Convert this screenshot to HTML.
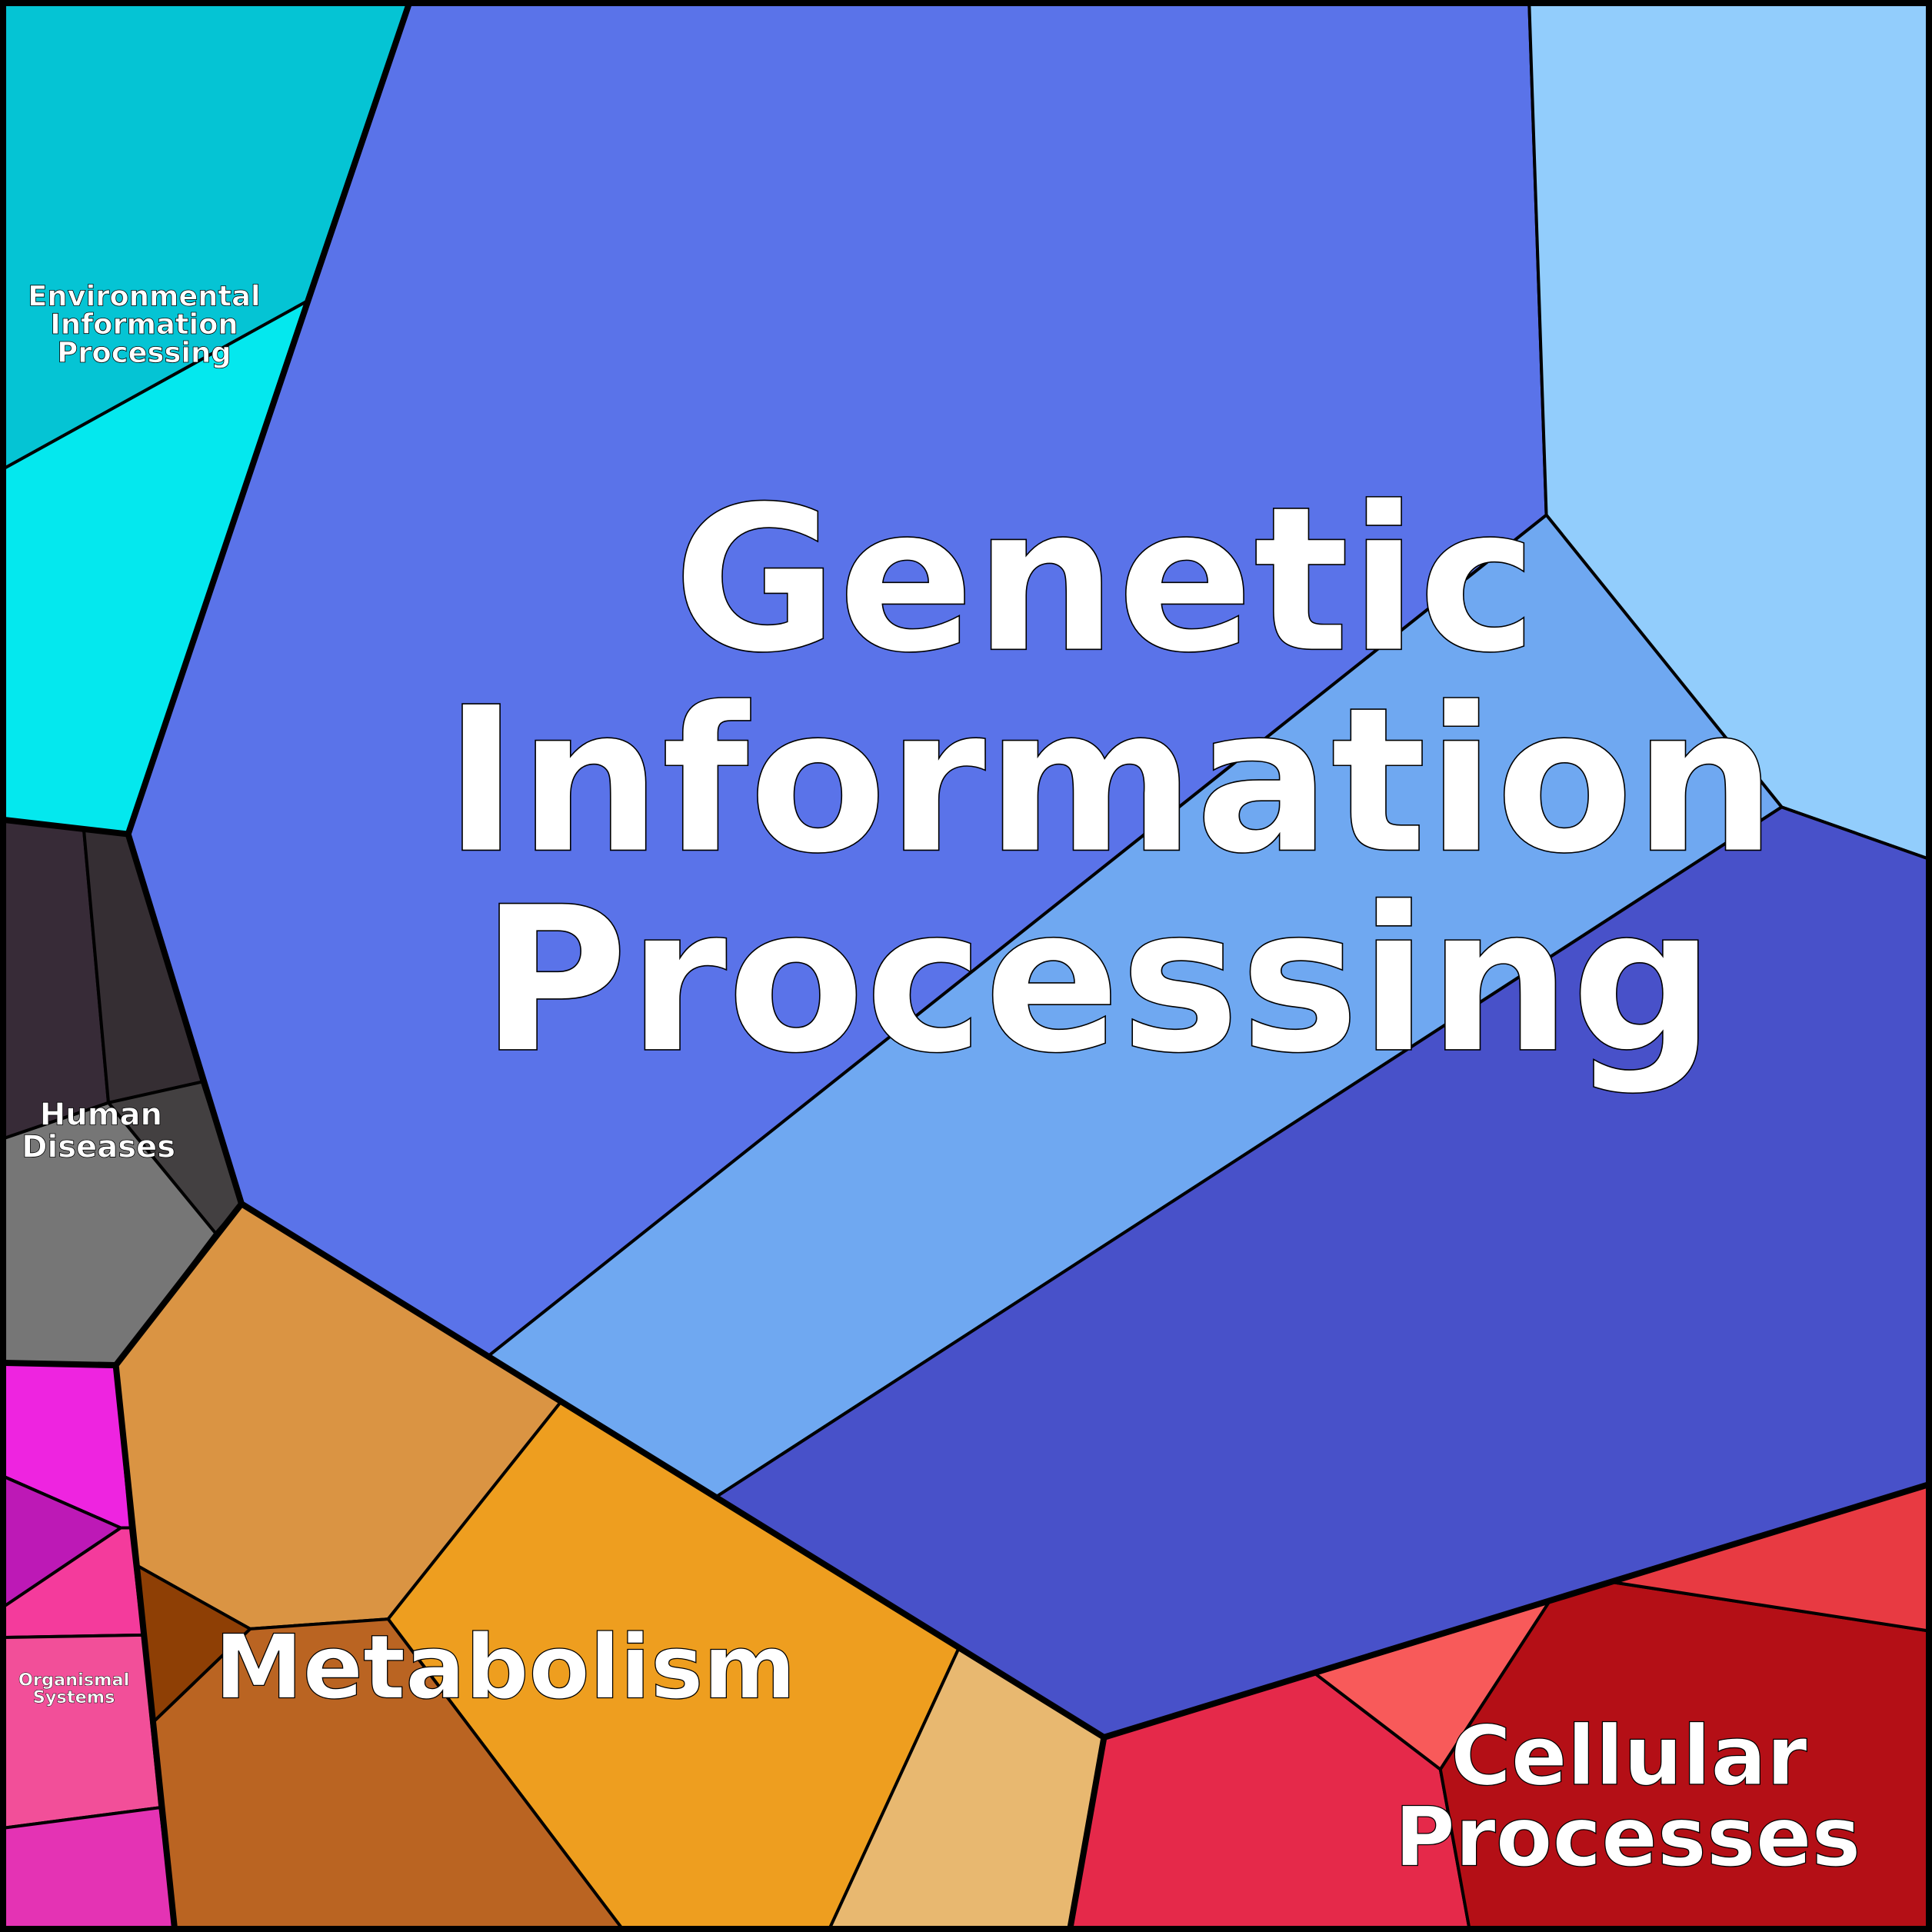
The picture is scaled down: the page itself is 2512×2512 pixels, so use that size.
<!DOCTYPE html>
<html><head><meta charset="utf-8"><style>html,body{margin:0;padding:0;background:#fff}svg{display:block}</style></head>
<body>
<svg width="2512" height="2512" viewBox="0 0 1568 1568" xmlns="http://www.w3.org/2000/svg">
<g stroke="#000" stroke-width="2.5" stroke-linejoin="round">
<polygon fill="#05C4D4" points="0,0 333,0 250,244 0,382"/>
<polygon fill="#04E8EE" points="0,382 250,244 104,677 0,665"/>
<polygon fill="#5A73E9" points="333,0 1241,0 1255,418 397,1100 196,977 104,677 250,244"/>
<polygon fill="#92CDFC" points="1241,0 1568,0 1568,698 1446,655 1255,418"/>
<polygon fill="#6FA8F1" points="1255,418 1446,655 581,1215 397,1100"/>
<polygon fill="#4851C9" points="1446,655 1568,698 1568,1204 896,1410 581,1215"/>
<polygon fill="#372B37" points="0,665 68,673 88,895 0,925"/>
<polygon fill="#352E33" points="68,673 104,677 164,878 88,895"/>
<polygon fill="#434041" points="88,895 164,878 196,977 175,1001"/>
<polygon fill="#767676" points="0,925 88,895 175,1001 94,1108 0,1106"/>
<polygon fill="#DA9443" points="196,977 455,1138 315,1314 203,1322 112,1271 94,1108"/>
<polygon fill="#EE9E1F" points="455,1138 778,1338 672,1568 507,1568 315,1314"/>
<polygon fill="#E8B870" points="778,1338 896,1410 868,1568 672,1568"/>
<polygon fill="#BA6422" points="203,1322 315,1314 507,1568 142,1568 125,1397"/>
<polygon fill="#8E3F05" points="112,1271 203,1322 125,1397"/>
<polygon fill="#EE24E0" points="0,1106 94,1108 106,1240 98,1240 0,1197"/>
<polygon fill="#BD19B6" points="0,1197 98,1240 0,1306"/>
<polygon fill="#F43B9C" points="0,1306 98,1240 106,1240 116,1327 0,1329"/>
<polygon fill="#F24F99" points="0,1329 116,1327 130,1467 0,1484"/>
<polygon fill="#E433B4" points="0,1484 130,1467 142,1568 0,1568"/>
<polygon fill="#E5294A" points="896,1410 1067,1358 1169,1436 1193,1568 868,1568"/>
<polygon fill="#F85A5A" points="1067,1358 1258,1299 1169,1436"/>
<polygon fill="#B40F16" points="1258,1299 1308,1284 1568,1324 1568,1568 1193,1568 1169,1436"/>
<polygon fill="#E83A42" points="1308,1284 1568,1204 1568,1324"/>
</g>
<g fill="none" stroke="#000" stroke-width="5" stroke-linejoin="round">
<polyline points="333,0 250,244 104,677 0,665"/>
<polyline points="104,677 196,977 94,1108 0,1106"/>
<polyline points="196,977 896,1410 1568,1204"/>
<polyline points="94,1108 142,1568"/>
<polyline points="896,1410 868,1568"/>
<rect x="2.5" y="2.5" width="1563" height="1563"/>
</g>
<g font-family="'DejaVu Sans','Liberation Sans',sans-serif" font-weight="bold" fill="#fff" stroke="#000" text-anchor="middle">
<g font-size="163" stroke-width="1">
<text x="897" y="527">Genetic</text>
<text x="901" y="690">Information</text>
<text x="891" y="852">Processing</text>
</g>
<g font-size="72" stroke-width="0.8">
<text x="410" y="1378">Metabolism</text>
</g>
<g font-size="67" stroke-width="0.8">
<text x="1322" y="1448">Cellular</text>
<text x="1321" y="1514">Processes</text>
</g>
<g font-size="23" stroke-width="0.5">
<text x="117" y="248">Environmental</text>
<text x="117" y="271">Information</text>
<text x="117" y="294">Processing</text>
</g>
<g font-size="25" stroke-width="0.5">
<text x="82" y="913">Human</text>
<text x="80" y="939">Diseases</text>
</g>
<g font-size="14" stroke-width="0.3">
<text x="60" y="1368">Organismal</text>
<text x="60" y="1382">Systems</text>
</g>
</g>
</svg>
</body></html>
